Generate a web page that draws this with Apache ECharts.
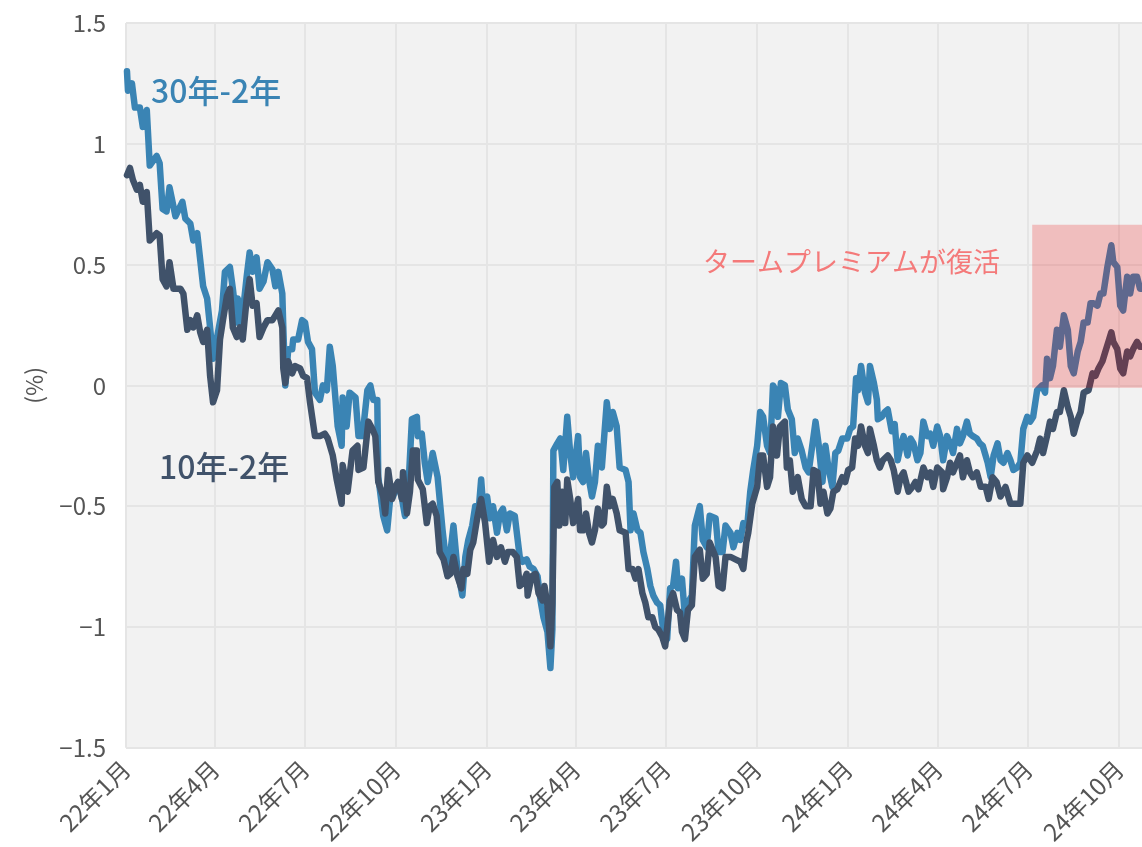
<!DOCTYPE html>
<html>
<head>
<meta charset="utf-8">
<script src="https://cdn.jsdelivr.net/npm/echarts@6.0.0/dist/echarts.min.js"></script>
<style>
  html, body { margin: 0; padding: 0; background: #fff; }
  #chart { width: 1142px; height: 847px; }
</style>
</head>
<body>
<div id="chart"></div>
<script>
// 日数は 2022-01-01 からの経過日
var startDate = [2022, 0, 1];
var endDay = 1027;

// 30年-2年 スプレッド [日, %]
var spread30 = [[1,1.30],[2,1.22],[6,1.25],[9,1.15],[14,1.15],[17,1.07],[21,1.14],[24,0.91],[31,0.95],[34,0.92],[37,0.73],[41,0.72],[44,0.82],[50,0.70],[57,0.76],[60,0.69],[65,0.67],[68,0.60],[72,0.63],[75,0.52],[78,0.41],[82,0.36],[85,0.24],[88,0.11],[93,0.22],[97,0.31],[100,0.47],[105,0.49],[108,0.40],[112,0.26],[113,0.36],[117,0.26],[122,0.45],[125,0.55],[128,0.47],[132,0.53],[135,0.40],[139,0.43],[143,0.51],[148,0.48],[151,0.41],[154,0.47],[158,0.38],[159,0.24],[161,0.00],[164,0.15],[168,0.15],[169,0.19],[174,0.19],[178,0.27],[181,0.26],[184,0.18],[188,0.15],[191,-0.03],[196,-0.06],[199,0.00],[203,-0.02],[206,0.16],[209,0.08],[214,-0.17],[218,-0.25],[219,-0.05],[223,-0.17],[226,-0.03],[232,-0.05],[235,-0.21],[239,-0.21],[244,-0.02],[247,0.00],[250,-0.06],[254,-0.06],[255,-0.38],[260,-0.54],[264,-0.60],[267,-0.47],[270,-0.46],[275,-0.40],[279,-0.47],[282,-0.54],[285,-0.46],[289,-0.14],[294,-0.13],[295,-0.21],[299,-0.20],[302,-0.32],[305,-0.40],[310,-0.28],[315,-0.38],[320,-0.60],[323,-0.71],[326,-0.76],[331,-0.58],[335,-0.76],[340,-0.87],[343,-0.71],[346,-0.64],[350,-0.58],[353,-0.50],[356,-0.54],[359,-0.39],[361,-0.50],[365,-0.46],[368,-0.55],[371,-0.50],[375,-0.61],[378,-0.53],[381,-0.51],[385,-0.60],[388,-0.53],[393,-0.54],[398,-0.71],[401,-0.73],[405,-0.72],[408,-0.75],[412,-0.76],[416,-0.79],[419,-0.89],[422,-0.96],[426,-1.02],[429,-1.17],[431,-1.01],[432,-0.27],[436,-0.24],[439,-0.22],[442,-0.35],[446,-0.13],[449,-0.28],[452,-0.38],[457,-0.21],[459,-0.38],[462,-0.40],[465,-0.28],[468,-0.39],[471,-0.46],[474,-0.40],[477,-0.25],[481,-0.34],[483,-0.34],[486,-0.07],[489,-0.18],[492,-0.11],[496,-0.17],[499,-0.34],[505,-0.35],[508,-0.40],[510,-0.60],[513,-0.53],[517,-0.60],[520,-0.61],[523,-0.69],[527,-0.76],[530,-0.83],[533,-0.87],[537,-0.90],[540,-0.91],[542,-0.98],[545,-1.06],[547,-1.05],[550,-0.84],[553,-0.83],[556,-0.73],[558,-0.84],[562,-0.80],[565,-0.96],[568,-0.90],[572,-0.87],[575,-0.58],[580,-0.50],[583,-0.64],[587,-0.67],[590,-0.54],[596,-0.55],[599,-0.69],[603,-0.69],[606,-0.58],[611,-0.61],[614,-0.67],[618,-0.61],[621,-0.64],[624,-0.57],[628,-0.58],[631,-0.44],[634,-0.35],[638,-0.25],[641,-0.11],[644,-0.13],[648,-0.25],[651,-0.28],[654,0.00],[658,-0.03],[659,-0.13],[662,0.01],[666,0.00],[669,-0.10],[673,-0.14],[676,-0.28],[679,-0.22],[683,-0.27],[687,-0.34],[690,-0.36],[694,-0.24],[697,-0.15],[700,-0.24],[704,-0.40],[707,-0.25],[710,-0.34],[714,-0.42],[717,-0.28],[720,-0.27],[724,-0.22],[729,-0.22],[732,-0.18],[735,-0.17],[738,0.03],[740,-0.02],[743,0.08],[747,-0.03],[750,-0.07],[752,0.08],[756,0.01],[759,-0.06],[760,-0.14],[764,-0.13],[767,-0.11],[770,-0.10],[774,-0.19],[777,-0.16],[780,-0.31],[783,-0.25],[786,-0.21],[790,-0.29],[793,-0.22],[796,-0.24],[800,-0.31],[803,-0.28],[806,-0.15],[810,-0.21],[813,-0.20],[816,-0.25],[820,-0.17],[823,-0.21],[826,-0.31],[830,-0.21],[833,-0.24],[836,-0.28],[840,-0.18],[843,-0.24],[846,-0.21],[850,-0.15],[853,-0.20],[856,-0.21],[860,-0.22],[863,-0.24],[866,-0.25],[871,-0.32],[874,-0.38],[877,-0.29],[881,-0.24],[884,-0.31],[887,-0.32],[891,-0.28],[894,-0.31],[897,-0.35],[901,-0.34],[904,-0.32],[907,-0.18],[911,-0.13],[914,-0.15],[917,-0.13],[921,-0.02],[926,0.00],[929,-0.03],[931,0.11],[934,0.03],[937,0.08],[941,0.23],[944,0.16],[948,0.29],[952,0.23],[955,0.08],[958,0.05],[962,0.14],[965,0.18],[968,0.26],[972,0.26],[975,0.34],[978,0.34],[982,0.33],[985,0.38],[988,0.38],[992,0.49],[996,0.58],[998,0.51],[1002,0.49],[1005,0.33],[1008,0.31],[1012,0.45],[1015,0.38],[1018,0.45],[1022,0.45],[1025,0.40],[1028,0.40]];

// 10年-2年 スプレッド [日, %]
var spread10 = [[1,0.87],[4,0.90],[7,0.85],[11,0.81],[14,0.83],[17,0.76],[21,0.80],[24,0.60],[31,0.63],[34,0.62],[37,0.44],[41,0.41],[44,0.51],[48,0.40],[55,0.40],[58,0.38],[62,0.23],[65,0.27],[68,0.24],[72,0.29],[75,0.22],[78,0.18],[82,0.23],[85,0.04],[88,-0.07],[92,-0.02],[95,0.19],[98,0.27],[102,0.37],[105,0.40],[108,0.24],[112,0.20],[115,0.24],[118,0.19],[122,0.36],[125,0.44],[128,0.33],[132,0.34],[135,0.20],[139,0.24],[143,0.27],[148,0.27],[151,0.29],[154,0.31],[158,0.24],[159,0.07],[161,0.01],[164,0.10],[168,0.05],[171,0.08],[176,0.07],[179,0.04],[183,0.03],[186,-0.07],[191,-0.21],[196,-0.21],[201,-0.20],[204,-0.22],[209,-0.29],[213,-0.39],[218,-0.49],[219,-0.33],[224,-0.44],[229,-0.27],[234,-0.25],[235,-0.35],[240,-0.34],[245,-0.15],[249,-0.18],[252,-0.21],[255,-0.40],[260,-0.46],[262,-0.53],[265,-0.35],[269,-0.47],[272,-0.42],[275,-0.40],[279,-0.47],[280,-0.36],[284,-0.53],[287,-0.44],[290,-0.27],[294,-0.27],[295,-0.39],[300,-0.43],[304,-0.57],[307,-0.50],[310,-0.49],[314,-0.54],[317,-0.69],[321,-0.72],[325,-0.79],[328,-0.78],[331,-0.71],[335,-0.79],[339,-0.84],[341,-0.76],[345,-0.78],[348,-0.68],[351,-0.65],[355,-0.55],[359,-0.47],[363,-0.57],[367,-0.73],[371,-0.64],[375,-0.71],[379,-0.67],[383,-0.73],[386,-0.69],[391,-0.69],[395,-0.71],[398,-0.83],[401,-0.82],[405,-0.78],[406,-0.87],[410,-0.79],[414,-0.78],[417,-0.86],[421,-0.89],[423,-0.83],[426,-0.91],[429,-1.08],[431,-0.90],[433,-0.42],[436,-0.40],[438,-0.58],[441,-0.44],[444,-0.57],[446,-0.39],[449,-0.47],[452,-0.57],[457,-0.47],[459,-0.60],[462,-0.60],[465,-0.53],[468,-0.61],[471,-0.65],[474,-0.60],[477,-0.51],[481,-0.58],[483,-0.57],[486,-0.42],[489,-0.50],[492,-0.47],[496,-0.53],[499,-0.60],[505,-0.61],[508,-0.76],[512,-0.76],[515,-0.80],[518,-0.76],[522,-0.86],[525,-0.90],[528,-0.96],[532,-0.96],[535,-1.00],[538,-1.01],[542,-1.04],[545,-1.08],[547,-1.08],[550,-0.89],[553,-0.86],[557,-0.93],[560,-0.94],[562,-1.02],[565,-1.05],[568,-0.93],[572,-0.91],[575,-0.71],[580,-0.68],[583,-0.80],[587,-0.78],[590,-0.65],[596,-0.71],[599,-0.83],[603,-0.84],[606,-0.71],[611,-0.71],[616,-0.72],[621,-0.73],[624,-0.76],[627,-0.65],[629,-0.61],[633,-0.49],[638,-0.42],[641,-0.29],[644,-0.29],[648,-0.42],[651,-0.38],[654,-0.17],[658,-0.29],[661,-0.17],[666,-0.15],[668,-0.34],[671,-0.31],[674,-0.44],[679,-0.38],[683,-0.47],[687,-0.50],[692,-0.50],[695,-0.35],[699,-0.36],[702,-0.49],[705,-0.44],[709,-0.53],[712,-0.51],[715,-0.44],[719,-0.43],[724,-0.38],[727,-0.40],[730,-0.35],[734,-0.34],[737,-0.22],[740,-0.25],[743,-0.17],[747,-0.25],[750,-0.28],[752,-0.18],[756,-0.25],[759,-0.31],[762,-0.34],[765,-0.31],[770,-0.29],[773,-0.31],[776,-0.35],[780,-0.44],[783,-0.38],[786,-0.36],[791,-0.44],[795,-0.42],[798,-0.40],[801,-0.43],[806,-0.34],[810,-0.38],[813,-0.36],[816,-0.42],[820,-0.34],[825,-0.36],[826,-0.43],[830,-0.38],[833,-0.32],[836,-0.36],[840,-0.32],[843,-0.29],[846,-0.38],[850,-0.31],[853,-0.36],[856,-0.38],[860,-0.36],[864,-0.42],[869,-0.42],[872,-0.47],[876,-0.38],[880,-0.40],[884,-0.46],[889,-0.42],[894,-0.49],[899,-0.49],[904,-0.49],[907,-0.32],[911,-0.29],[916,-0.32],[921,-0.27],[924,-0.22],[927,-0.28],[931,-0.21],[934,-0.15],[937,-0.18],[941,-0.11],[944,-0.11],[948,-0.02],[952,-0.09],[955,-0.13],[958,-0.20],[962,-0.14],[965,-0.11],[968,-0.03],[973,-0.02],[977,0.05],[980,0.04],[983,0.07],[987,0.10],[990,0.14],[993,0.18],[996,0.22],[998,0.18],[1002,0.15],[1005,0.07],[1008,0.05],[1012,0.14],[1015,0.12],[1018,0.15],[1022,0.18],[1025,0.16],[1028,0.16]];

// 目盛り（四半期）
var tickMonths = [[2022,0],[2022,3],[2022,6],[2022,9],[2023,0],[2023,3],[2023,6],[2023,9],[2024,0],[2024,3],[2024,6],[2024,9]];
var tickLabels = ['22年1月','22年4月','22年7月','22年10月','23年1月','23年4月','23年7月','23年10月','24年1月','24年4月','24年7月','24年10月'];

// 強調範囲
var areaDays = [916, endDay];
var areaRange = [-0.01, 0.665];

var t0 = Date.UTC(startDate[0], startDate[1], startDate[2]);
var tickDays = tickMonths.map(function (m) {
  return Math.round((Date.UTC(m[0], m[1], 1) - t0) / 86400000);
});

var labelFont = "'Noto Sans CJK JP', sans-serif";
var gridLine = { show: true, lineStyle: { color: '#e5e5e5', width: 2 } };

var chart = echarts.init(document.getElementById('chart'));
var option = {
  animation: false,
  backgroundColor: '#fff',
  grid: { left: 126, right: 0, top: 23, bottom: 98, show: true, backgroundColor: '#f2f2f2', borderWidth: 0 },
  xAxis: {
    type: 'value',
    min: 0,
    max: endDay,
    axisLine: { show: false },
    axisTick: { show: false, customValues: tickDays },
    axisLabel: {
      customValues: tickDays,
      rotate: 45,
      margin: 17,
      color: '#555',
      fontSize: 24,
      fontFamily: labelFont,
      formatter: function (v) {
        var i = tickDays.indexOf(v);
        return i >= 0 ? tickLabels[i] : '';
      }
    },
    splitLine: gridLine
  },
  yAxis: {
    type: 'value',
    min: -1.5,
    max: 1.5,
    interval: 0.5,
    name: '(%)',
    nameLocation: 'middle',
    nameGap: 80,
    nameTextStyle: { color: '#555', fontSize: 23, fontFamily: labelFont },
    axisLine: { show: false },
    axisTick: { show: false },
    axisLabel: {
      margin: 20,
      color: '#555',
      fontSize: 24,
      fontFamily: labelFont,
      formatter: function (v) { return v < 0 ? '−' + (-v) : String(v); }
    },
    splitLine: gridLine
  },
  series: [
    {
      name: '30年-2年',
      type: 'line',
      symbol: 'none',
      z: 2,
      lineStyle: { color: '#3a84b4', width: 6.5, join: 'round', cap: 'round' },
      data: spread30
    },
    {
      name: '10年-2年',
      type: 'line',
      symbol: 'none',
      z: 3,
      lineStyle: { color: '#40526a', width: 6.5, join: 'round', cap: 'round' },
      data: spread10
    },
    {
      // 上に重ねる網掛け
      type: 'line',
      data: [],
      z: 10,
      markArea: {
        silent: true,
        z: 10,
        itemStyle: { color: 'rgba(236,0,0,0.21)' },
        data: [[
          { xAxis: areaDays[0], yAxis: areaRange[0] },
          { xAxis: areaDays[1], yAxis: areaRange[1] }
        ]]
      }
    }
  ],
  graphic: [
    { type: 'text', x: 151, y: 91, z: 20,
      style: { text: '30年-2年', fill: '#3a84b4', font: "500 32px 'Noto Sans CJK JP'", verticalAlign: 'middle' } },
    { type: 'text', x: 159, y: 467, z: 20,
      style: { text: '10年-2年', fill: '#40526a', font: "500 32px 'Noto Sans CJK JP'", verticalAlign: 'middle' } },
    { type: 'text', x: 703, y: 262, z: 20,
      style: { text: 'タームプレミアムが復活', fill: '#f47a7a', font: "27px 'Noto Sans CJK JP'", verticalAlign: 'middle' } }
  ]
};
chart.setOption(option);
</script>
</body>
</html>
